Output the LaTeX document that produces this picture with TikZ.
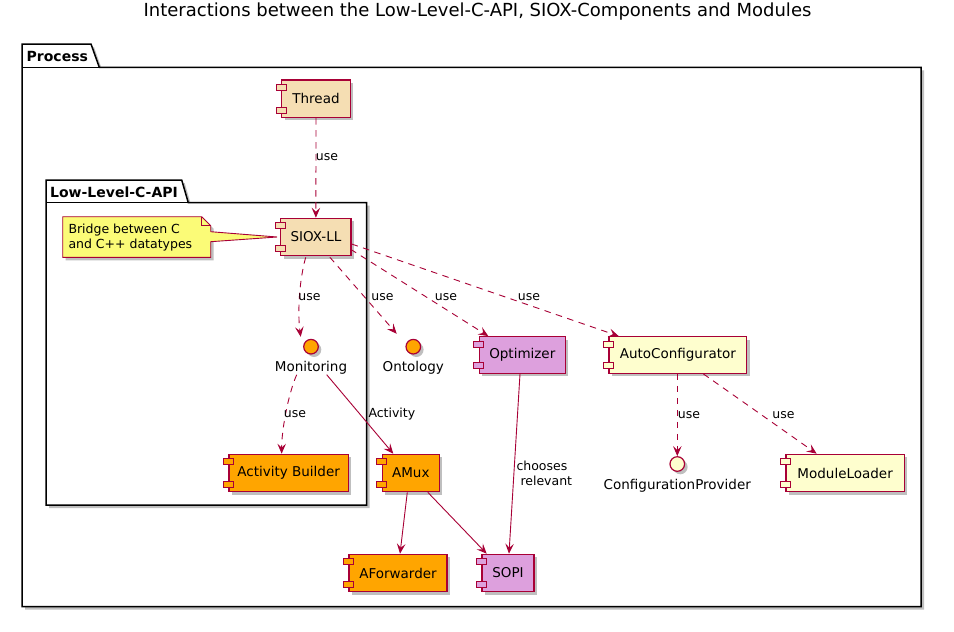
\documentclass[tikz,border=0pt]{standalone}
\usepackage{fontspec}
\setmainfont{DejaVu Sans}
\usetikzlibrary{arrows.meta,shadows,calc}
\definecolor{pred}{HTML}{A80036}
\definecolor{pwheat}{HTML}{F5DEB3}
\definecolor{porange}{HTML}{FFA500}
\definecolor{pplum}{HTML}{DDA0DD}
\definecolor{pivory}{HTML}{FEFECE}
\definecolor{pnote}{HTML}{FBFB77}
\newcommand\comptabs[2]{%
  \draw[tabst,fill=#2] ([xshift=-5pt,yshift=-5pt]#1.north west) rectangle ++(10pt,-6pt);
  \draw[tabst,fill=#2] ([xshift=-5pt,yshift=5pt]#1.south west) rectangle ++(10pt,6pt);}
\begin{document}
\begin{tikzpicture}[x=1pt,y=-1pt,
  shad/.style={drop shadow={shadow xshift=3pt,shadow yshift=-3pt,opacity=0.25,fill=black}},
  comp/.style={draw=pred,line width=1.2pt,minimum height=37.4pt,inner sep=0pt,
    font=\fontsize{13.5}{16}\selectfont,shad},
  tabst/.style={draw=pred,line width=1pt},
  iface/.style={circle,draw=pred,line width=1.2pt,minimum size=14.6pt,inner sep=0pt,shad},
  ilbl/.style={font=\fontsize{13.5}{16}\selectfont,inner sep=0pt},
  elbl/.style={font=\fontsize{12.5}{15}\selectfont,inner sep=0pt},
  pkg/.style={draw=black,line width=1.5pt,fill=white,shad},
  pkglbl/.style={font=\bfseries\fontsize{14}{16}\selectfont,inner sep=0pt},
  tip/.style={-{Stealth[length=10pt,width=8.5pt,inset=4pt]}},
  dep/.style={draw=pred,line width=0.9pt,dash pattern=on 6.5pt off 5.5pt,tip},
  assoc/.style={draw=pred,line width=0.9pt,tip},
]
\useasboundingbox (0,0) rectangle (954,632);
\fill[white] (0,0) rectangle (954,632);

% title
\node[font=\fontsize{18}{21}\selectfont,inner sep=0pt] (title) at (477.5,12)
  {Interactions between the Low-Level-C-API, SIOX-Components and Modules};

% packages
\draw[pkg] (22,44) -- (91,44) -- (99.3,67.3) -- (921,67.3) -- (921,606.7) -- (22,606.7) -- cycle;
\draw[line width=1.5pt] (22,67.3) -- (99.3,67.3);
\node[pkglbl,anchor=west] (proclbl) at (26.5,56) {Process};

\draw[pkg] (46,180) -- (181.7,180) -- (188.3,202.7) -- (366.5,202.7) -- (366.5,505) -- (46,505) -- cycle;
\draw[line width=1.5pt] (46,202.7) -- (188.3,202.7);
\node[pkglbl,anchor=west] (lllbl) at (50,192) {Low-Level-C-API};

% components
\node[comp,fill=pwheat,minimum width=68.3pt] (thread) at (316,98.7) {Thread};
\node[comp,fill=pwheat,minimum width=70.3pt] (siox) at (315.9,237) {SIOX-LL};
\node[comp,fill=pplum,minimum width=86pt,minimum height=36.6pt] (opt) at (522.3,355) {Optimizer};
\node[comp,fill=pivory,minimum width=137.7pt,minimum height=36.6pt] (auto) at (677.85,355) {AutoConfigurator};
\node[comp,fill=porange,minimum width=119.3pt] (actb) at (288.65,473) {Activity Builder};
\node[comp,fill=porange,minimum width=57pt] (amux) at (410.8,473) {AMux};
\node[comp,fill=pivory,minimum width=118.3pt] (ml) at (845.15,473) {ModuleLoader};
\node[comp,fill=porange,minimum width=98pt] (afw) at (398,573) {AForwarder};
\node[comp,fill=pplum,minimum width=52pt] (sopi) at (508,573) {SOPI};
\comptabs{thread}{pwheat}
\comptabs{siox}{pwheat}
\comptabs{opt}{pplum}
\comptabs{auto}{pivory}
\comptabs{actb}{porange}
\comptabs{amux}{porange}
\comptabs{ml}{pivory}
\comptabs{afw}{porange}
\comptabs{sopi}{pplum}

% interfaces
\node[iface,fill=porange] (mon) at (311,346.7) {};
\node[ilbl] (monl) at (311,368) {Monitoring};
\node[iface,fill=porange] (ont) at (413.3,346.7) {};
\node[ilbl] (ontl) at (413.3,368) {Ontology};
\node[iface,fill=pivory] (cp) at (677.3,464) {};
\node[ilbl] (cpl) at (677.3,485.7) {ConfigurationProvider};

% note
\draw[draw=pred,line width=0.9pt,fill=pnote,shad] (62.7,216.7) -- (201.7,216.7) -- (210.7,225.7) -- (210.7,257.3) -- (62.7,257.3) -- cycle;
\draw[draw=pred,line width=0.9pt] (201.7,216.7) -- (201.7,225.7) -- (210.7,225.7);
\node[elbl,anchor=north west,align=left] (note) at (68.3,223.5) {Bridge between C\\and C++ datatypes};
\coordinate (noteR) at (210.7,236.7);
\fill[pnote] ($(noteR)+(-1,-5)$) -- ($(siox.west)+(-3,0)$) -- ($(noteR)+(-1,5)$) -- cycle;
\draw[draw=pred,line width=0.9pt] ($(noteR)+(0,-5)$) -- ($(siox.west)+(-3,0)$) -- ($(noteR)+(0,5)$);

% connectors
\draw[dep] (thread.south) -- (siox.north);
\node[elbl] (l1) at (327,157) {use};

\draw[dep] ($(siox.south)+(-10.2,1)$) .. controls +(-7,25) and +(-3,-22) .. ($(mon.north)+(-10.3,-2)$);
\node[elbl] (l2) at (309.5,297) {use};

\draw[dep] ($(siox.south)+(14,1)$) -- ($(ont.north)+(-16.6,-5)$);
\node[elbl] (l3) at (382.5,297) {use};

\draw[dep] ($(siox.east)+(-1,12.3)$) -- ($(opt.north)+(-34,0)$);
\node[elbl] (l4) at (446,297) {use};

\draw[dep] ($(siox.east)+(0,7)$) -- ($(auto.north west)+(10.3,0)$);
\node[elbl] (l5) at (529,296.7) {use};

\draw[dep] ($(monl.south)+(-14.3,0)$) .. controls +(-8,18) and +(0,-25) .. ($(actb.north)+(-7,0)$);
\node[elbl] (l6) at (295,414) {use};

\draw[assoc] ($(monl.south)+(15.7,0)$) -- ($(amux.north)+(-17.5,0)$);
\node[elbl,anchor=west] (l7) at (368.3,414) {Activity};

\draw[assoc] ($(opt.south)+(-2.3,0)$) -- ($(sopi.north)+(1,0)$);
\node[elbl,anchor=west,align=left] (l8) at (516.3,473.3) {chooses\\\hspace*{4pt}relevant};

\draw[assoc] ($(amux.south)+(-3.5,0)$) -- ($(afw.north)+(2,0)$);
\draw[assoc] ($(amux.south)+(17,0)$) -- ($(sopi.north)+(-21.3,0)$);

\draw[dep] (auto.south -| cp) -- (cp.north);
\node[elbl] (l9) at (689,415) {use};

\draw[dep] ($(auto.south)+(25.5,0)$) -- ($(ml.north)+(-28.5,0)$);
\node[elbl] (l10) at (783.5,415) {use};
\end{tikzpicture}
\end{document}
